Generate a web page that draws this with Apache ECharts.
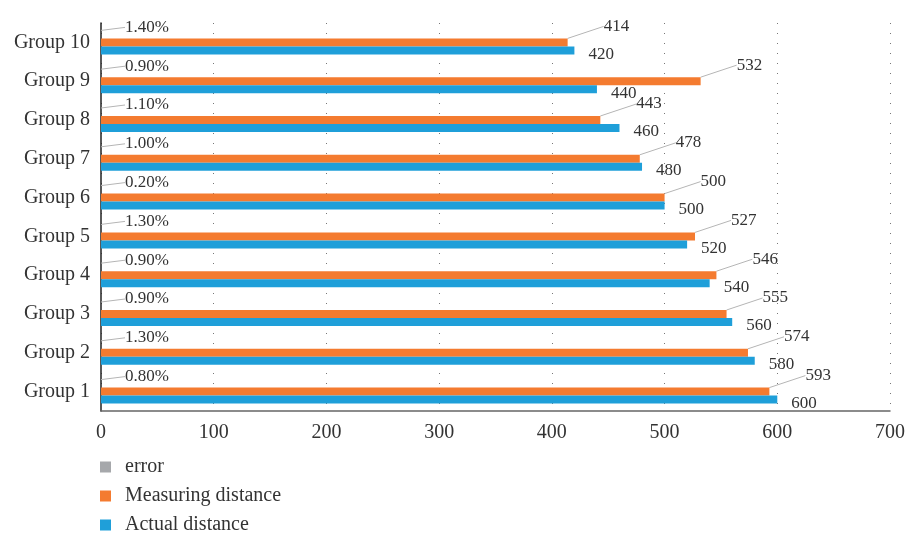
<!DOCTYPE html>
<html>
<head>
<meta charset="utf-8">
<script src="https://cdn.jsdelivr.net/npm/echarts@6/dist/echarts.min.js"></script>
<style>
	html, body { margin: 0; padding: 0; background: #fff; }
	#js-chart { width: 908px; height: 537px; }
</style>
</head>
<body>
<div id="js-chart"></div>
<script>
var groups = ['Group 1','Group 2','Group 3','Group 4','Group 5','Group 6','Group 7','Group 8','Group 9','Group 10'];
var actualDistance = [600, 580, 560, 540, 520, 500, 480, 460, 440, 420];
var measuringDistance = [593, 574, 555, 546, 527, 500, 478, 443, 532, 414];
var errorPercent = [0.80, 1.30, 0.90, 0.90, 1.30, 0.20, 1.00, 1.10, 0.90, 1.40];
var xTicks = [0, 100, 200, 300, 400, 500, 600, 700];

initChart();

function initChart(){
	var chart = echarts.init(document.getElementById('js-chart'));
	var font = 'Liberation Serif';
	var guide = { show: true, lineStyle: { color: '#b5b5b5', width: 1 } };
	// series order: first series is drawn at the top of each band
	option = {
		animation: false,
		textStyle: { fontFamily: font },
		grid: { left: 101, right: 17, top: 23, bottom: 126 },
		legend: {
			orient: 'vertical',
			left: 100,
			top: 457,
			padding: 0,
			itemWidth: 11,
			itemHeight: 11,
			itemGap: 9,
			icon: 'rect',
			data: ['error', 'Measuring distance', 'Actual distance'],
			textStyle: { fontFamily: font, fontSize: 20, lineHeight: 19, color: '#333', padding: [0, 0, 0, 9] }
		},
		xAxis: {
			type: 'value',
			min: xTicks[0],
			max: xTicks[xTicks.length - 1],
			interval: 100,
			axisLine: { show: true, lineStyle: { color: '#666', width: 1.5 } },
			axisTick: { show: false },
			axisLabel: { fontFamily: font, fontSize: 20, color: '#333', margin: 12 },
			splitLine: { show: true, lineStyle: { color: '#777', type: [1, 9], width: 1 } }
		},
		yAxis: {
			type: 'category',
			data: groups,
			axisLine: { show: true, lineStyle: { color: '#222', width: 1.5 } },
			axisTick: { show: false },
			axisLabel: { fontFamily: font, fontSize: 20, color: '#333', margin: 11 }
		},
		series: [
			{
				name: 'error',
				type: 'bar',
				barWidth: 8,
				barGap: '0%',
				itemStyle: { color: '#a6a8ab' },
				label: {
					show: true, position: 'right', distance: 2, fontSize: 17, color: '#333', fontFamily: font,
					padding: [0, 0, 0, 7],
					formatter: function(p){ return (p.value * 100).toFixed(2) + '%'; }
				},
				labelLayout: { dx: 15, dy: -7 },
				labelLine: guide,
				data: errorPercent.map(function(v){ return v / 100; })
			},
			{
				name: 'Measuring distance',
				type: 'bar',
				barWidth: 8,
				barGap: '0%',
				itemStyle: { color: '#f47b30' },
				label: {
					show: true, position: 'right', distance: 4, fontSize: 17, color: '#333', fontFamily: font,
					padding: [0, 0, 0, 5]
				},
				labelLayout: { dx: 27, dy: -16 },
				labelLine: guide,
				data: measuringDistance
			},
			{
				name: 'Actual distance',
				type: 'bar',
				barWidth: 8,
				barGap: '0%',
				itemStyle: { color: '#1f9fd9' },
				label: { show: true, position: 'right', distance: 14, fontSize: 17, color: '#333', fontFamily: font },
				labelLayout: { dy: 4 },
				data: actualDistance
			}
		]
	};
	chart.setOption(option);
}
</script>
</body>
</html>
